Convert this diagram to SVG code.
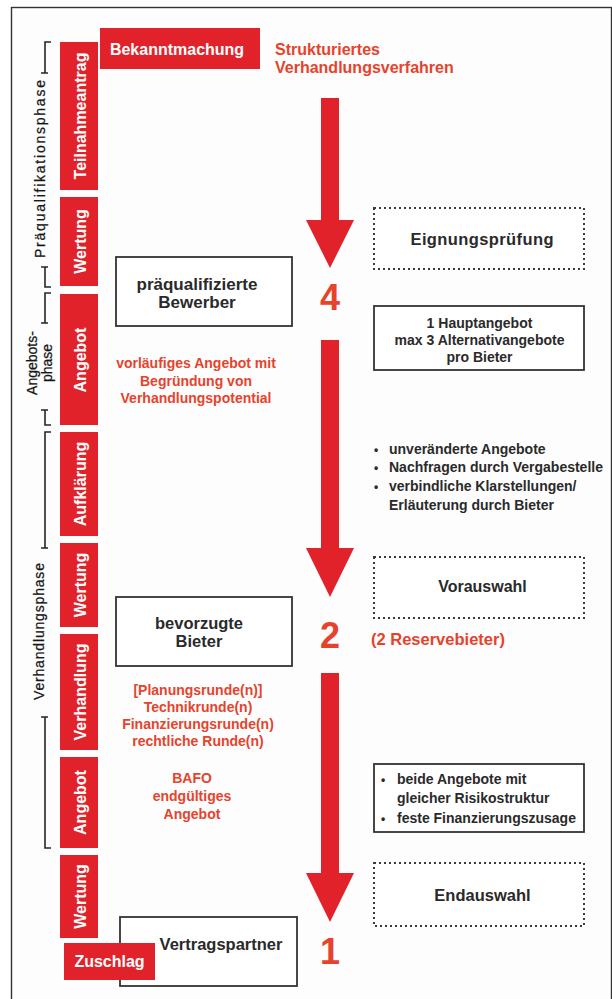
<svg xmlns="http://www.w3.org/2000/svg" width="612" height="999" viewBox="0 0 612 999">
<defs>
<style>
.tabr{fill:#e2222a}
.tab{font-family:"Liberation Sans",Arial,sans-serif;font-weight:bold;font-size:16px;fill:#fff;text-anchor:middle}
.ph{font-family:"Liberation Sans",Arial,sans-serif;font-size:14px;fill:#161616;stroke:#161616;stroke-width:0.25;text-anchor:middle}
.br{fill:none;stroke:#262626;stroke-width:1.6}
.dk{font-family:"Liberation Sans",Arial,sans-serif;font-weight:bold;fill:#2a2a2a}
.rd{font-family:"Liberation Sans",Arial,sans-serif;font-weight:bold;fill:#e6432d}
.box{fill:#fff;stroke:#333;stroke-width:1.8}
.dot{fill:#fff;stroke:#3a3a3a;stroke-width:2;stroke-dasharray:2 3}
.arr{fill:#e2222a}
.num{font-family:"Liberation Sans",Arial,sans-serif;font-weight:bold;font-size:36px;fill:#e6432d;text-anchor:middle}
</style>
</defs>
<rect width="612" height="999" fill="#fff"/>
<rect x="11.5" y="7.5" width="600" height="1000" fill="#fdfdfd" stroke="#333" stroke-width="1.4"/>

<g id="phases">
  <path class="br" d="M51,42 H45 V73 M41,73 H48"/>
  <text class="ph" transform="translate(45,169) rotate(-90)" textLength="178" lengthAdjust="spacing">Präqualifikationsphase</text>
  <path class="br" d="M41,267 H48 M45,267 V287 H51"/>
  <path class="br" d="M51,293 H45 V323 M41,323 H48"/>
  <text class="ph" transform="translate(37,363) rotate(-90)">Angebots-</text>
  <text class="ph" transform="translate(52,363) rotate(-90)">phase</text>
  <path class="br" d="M41,410 H48 M45,410 V425 H51"/>
  <path class="br" d="M51,432 H45 V548 M41,548 H48"/>
  <text class="ph" transform="translate(44,631.5) rotate(-90)" textLength="137" lengthAdjust="spacing">Verhandlungsphase</text>
  <path class="br" d="M41,717 H48 M45,717 V848 H51"/>
</g>

<g id="tabs">
  <g id="tab-teilnahmeantrag"><rect class="tabr" x="60" y="42" width="38" height="148"/><text class="tab" transform="translate(85.5,116) rotate(-90)">Teilnahmeantrag</text></g>
  <g id="tab-wertung1"><rect class="tabr" x="60" y="197" width="38" height="89"/><text class="tab" transform="translate(85.5,241.5) rotate(-90)">Wertung</text></g>
  <g id="tab-angebot1"><rect class="tabr" x="60" y="294" width="38" height="131"/><text class="tab" transform="translate(85.5,360) rotate(-90)">Angebot</text></g>
  <g id="tab-aufklaerung"><rect class="tabr" x="60" y="432" width="38" height="104"/><text class="tab" transform="translate(85.5,484) rotate(-90)">Aufklärung</text></g>
  <g id="tab-wertung2"><rect class="tabr" x="60" y="543" width="38" height="84"/><text class="tab" transform="translate(85.5,585) rotate(-90)">Wertung</text></g>
  <g id="tab-verhandlung"><rect class="tabr" x="60" y="634" width="38" height="116"/><text class="tab" transform="translate(85.5,692) rotate(-90)">Verhandlung</text></g>
  <g id="tab-angebot2"><rect class="tabr" x="60" y="757" width="38" height="91"/><text class="tab" transform="translate(85.5,802.5) rotate(-90)">Angebot</text></g>
  <g id="tab-wertung3"><rect class="tabr" x="60" y="855" width="38" height="83"/><text class="tab" transform="translate(85.5,896.5) rotate(-90)">Wertung</text></g>
</g>

<g id="bekanntmachung">
  <rect class="tabr" x="100" y="28" width="160" height="41"/>
  <text class="dk" x="177" y="55" font-size="16" style="fill:#fff" text-anchor="middle">Bekanntmachung</text>
</g>
<g id="title">
  <text class="rd" x="275" y="55" font-size="16">Strukturiertes</text>
  <text class="rd" x="275" y="73" font-size="16">Verhandlungsverfahren</text>
</g>

<g id="connectors">
  <path class="arr" d="M321,98 H339 V220 H354 L330,268 L306,220 H321 Z"/>
  <path class="arr" d="M321,340 H339 V548 H354 L330,597 L306,548 H321 Z"/>
  <path class="arr" d="M321,673 H339 V873 H354 L330,922 L306,873 H321 Z"/>
</g>

<g id="numbers">
  <text class="num" x="330" y="310">4</text>
  <text class="num" x="330" y="648">2</text>
  <text class="num" x="330" y="964">1</text>
</g>

<g id="praequalifizierte-bewerber">
  <rect class="box" x="116" y="257" width="176" height="69"/>
  <text class="dk" x="197" y="290" font-size="17" text-anchor="middle">präqualifizierte</text>
  <text class="dk" x="197" y="308" font-size="17" text-anchor="middle">Bewerber</text>
</g>

<g id="vorlaeufiges-angebot">
  <text class="rd" x="196" y="368" font-size="14" text-anchor="middle">vorläufiges Angebot mit</text>
  <text class="rd" x="196" y="386" font-size="14" text-anchor="middle">Begründung von</text>
  <text class="rd" x="196" y="403" font-size="14" text-anchor="middle">Verhandlungspotential</text>
</g>

<g id="bevorzugte-bieter">
  <rect class="box" x="116" y="597" width="176" height="69"/>
  <text class="dk" x="199" y="629" font-size="16.5" text-anchor="middle">bevorzugte</text>
  <text class="dk" x="199" y="647" font-size="16.5" text-anchor="middle">Bieter</text>
</g>

<g id="runden">
  <text class="rd" x="198" y="695" font-size="14" text-anchor="middle">[Planungsrunde(n)]</text>
  <text class="rd" x="198" y="712" font-size="14" text-anchor="middle">Technikrunde(n)</text>
  <text class="rd" x="198" y="729" font-size="14" text-anchor="middle">Finanzierungsrunde(n)</text>
  <text class="rd" x="198" y="746" font-size="14" text-anchor="middle">rechtliche Runde(n)</text>
</g>

<g id="bafo">
  <text class="rd" x="192" y="783" font-size="14" text-anchor="middle">BAFO</text>
  <text class="rd" x="192" y="801" font-size="14" text-anchor="middle">endgültiges</text>
  <text class="rd" x="192" y="819" font-size="14" text-anchor="middle">Angebot</text>
</g>

<g id="vertragspartner">
  <rect class="box" x="120" y="917" width="177" height="69"/>
  <text class="dk" x="221" y="950" font-size="16.5" text-anchor="middle">Vertragspartner</text>
</g>
<g id="zuschlag">
  <rect class="tabr" x="64" y="943" width="91" height="37"/>
  <text class="dk" x="109.5" y="967" font-size="16" style="fill:#fff" text-anchor="middle">Zuschlag</text>
</g>

<g id="eignungspruefung">
  <rect class="dot" x="374" y="208" width="210" height="61"/>
  <text class="dk" x="482" y="245" font-size="16.5" text-anchor="middle" textLength="143" lengthAdjust="spacing">Eignungsprüfung</text>
</g>

<g id="hauptangebot">
  <rect class="box" x="374" y="306" width="210" height="64"/>
  <text class="dk" x="479.5" y="328" font-size="14" text-anchor="middle">1 Hauptangebot</text>
  <text class="dk" x="479.5" y="345" font-size="14" text-anchor="middle">max 3 Alternativangebote</text>
  <text class="dk" x="479.5" y="362" font-size="14" text-anchor="middle">pro Bieter</text>
</g>

<g id="aufklaerung-liste" class="dk" font-size="14">
  <text x="374" y="454" font-size="12">•</text><text x="389" y="454">unveränderte Angebote</text>
  <text x="374" y="472" font-size="12">•</text><text x="389" y="472">Nachfragen durch Vergabestelle</text>
  <text x="374" y="491" font-size="12">•</text><text x="389" y="491">verbindliche Klarstellungen/</text>
  <text x="389" y="510">Erläuterung durch Bieter</text>
</g>

<g id="vorauswahl">
  <rect class="dot" x="374" y="557" width="210" height="61"/>
  <text class="dk" x="482.5" y="592" font-size="16" text-anchor="middle">Vorauswahl</text>
</g>
<g id="reservebieter">
  <text class="rd" x="371" y="645" font-size="16.5">(2 Reservebieter)</text>
</g>

<g id="beide-angebote">
  <rect class="box" x="374" y="764" width="210" height="68"/>
  <g class="dk" font-size="14">
    <text x="381" y="784" font-size="12">•</text><text x="397" y="784">beide Angebote mit</text>
    <text x="397" y="803">gleicher Risikostruktur</text>
    <text x="381" y="823" font-size="12">•</text><text x="397" y="823">feste Finanzierungszusage</text>
  </g>
</g>

<g id="endauswahl">
  <rect class="dot" x="374" y="863" width="210" height="63"/>
  <text class="dk" x="482.5" y="901" font-size="16.5" text-anchor="middle">Endauswahl</text>
</g>
</svg>
